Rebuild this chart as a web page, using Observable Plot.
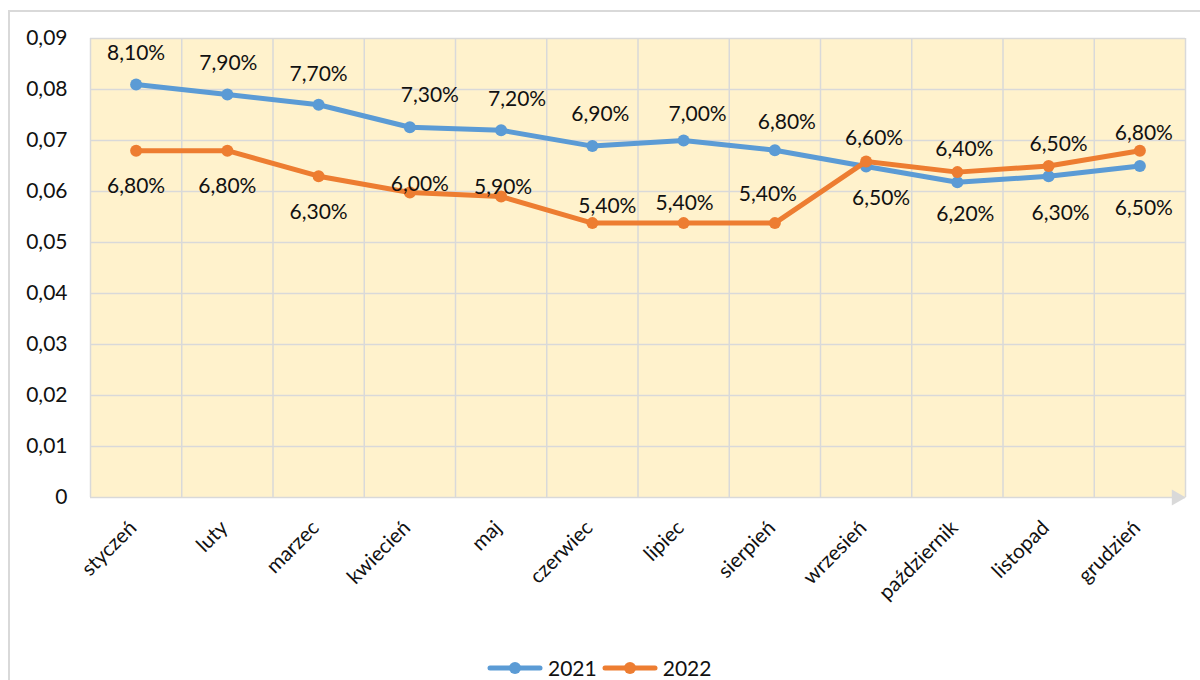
<!DOCTYPE html>
<html>
<head>
<meta charset="utf-8">
<script src="https://cdn.jsdelivr.net/npm/d3@7"></script>
<script src="https://cdn.jsdelivr.net/npm/@observablehq/plot@0.6"></script>
<style>
  body { margin: 0; background: #fff; font-family: Lato, "Open Sans", sans-serif; }
  #wrap { position: relative; width: 1200px; height: 680px; overflow: hidden; background: #fff; }
  #border { position: absolute; left: 8px; top: 10px; width: 1300px; height: 800px; border: 2px solid #d9d9d9; box-sizing: border-box; }
  #chart { position: absolute; left: 0; top: 0; }
  #legend { position: absolute; left: 487px; top: 657px; display: flex; align-items: center; font-size: 21px; line-height: 22px; color: #111; }
  #legend .item { display: flex; align-items: center; margin-right: 5px; }
  #legend svg { margin-right: 5px; }
</style>
</head>
<body>
<div id="wrap">
  <div id="border"></div>
  <div id="chart"></div>
  <div id="legend"></div>
</div>
<script>
// ---- data ----
const months = ["styczeń", "luty", "marzec", "kwiecień", "maj", "czerwiec", "lipiec", "sierpień", "wrzesień", "październik", "listopad", "grudzień"];
const values2021 = [0.081, 0.079, 0.077, 0.0726, 0.072, 0.0689, 0.070, 0.0681, 0.0649, 0.0618, 0.063, 0.065];
const values2022 = [0.068, 0.068, 0.063, 0.0598, 0.059, 0.0538, 0.0538, 0.0538, 0.0659, 0.0638, 0.065, 0.068];
const yTicks = [0, 0.01, 0.02, 0.03, 0.04, 0.05, 0.06, 0.07, 0.08, 0.09];
const seriesNames = ["2021", "2022"];
const seriesColors = ["#5B9BD5", "#ED7D31"];

// label nudges [dx, dy] (pixels), per point
const nudge2021 = [[0,-31],[1,-31],[0,-31],[20,-32],[16,-31],[8,-32],[14,-26],[12,-28],[15,32],[8,32],[12,37],[4,42]];
const nudge2022 = [[0,36],[0,36],[0,36],[10,-8],[2,-9],[15,-17],[1,-20],[-7,-29],[8,-23],[7,-23],[10,-22],[4,-17]];

const allValues = [values2021, values2022];
const allNudges = [nudge2021, nudge2022];

const rows = allValues.flatMap((vals, s) => vals.map((v, i) => ({
  series: seriesNames[s], si: s, i, x: i + 0.5, value: v,
  label: (Math.round(v * 1000) / 10).toFixed(2).replace(".", ",") + "%",
  dx: allNudges[s][i][0], dy: allNudges[s][i][1]
})));

const grid = "#d9d9d9";
const fmtY = d => d === 0 ? "0" : d.toFixed(2).replace(".", ",");

const marks = [
  Plot.frame({fill: "#FFF2CC", stroke: null}),
  Plot.ruleX(d3.range(0, 13), {stroke: grid, strokeWidth: 1.5}),
  Plot.ruleY(yTicks, {stroke: grid, strokeWidth: 1.5}),
  Plot.dot([{x: 12, y: 0}], {x: "x", y: "y", symbol: "triangle", r: 6, rotate: 90, fill: grid, stroke: null, dx: -9}),
];
seriesNames.forEach((name, s) => {
  const data = rows.filter(d => d.si === s);
  marks.push(Plot.line(data, {x: "x", y: "value", stroke: seriesColors[s], strokeWidth: 5, strokeLinejoin: "round", strokeLinecap: "round"}));
  marks.push(Plot.dot(data, {x: "x", y: "value", r: 6, fill: seriesColors[s], stroke: null}));
});
rows.forEach(d => {
  marks.push(Plot.text([d], {x: "x", y: "value", text: "label", dx: d.dx, dy: d.dy, fontSize: 21, fill: "#111"}));
});
marks.push(Plot.axisY({ticks: yTicks, tickSize: 0, tickPadding: 23, tickFormat: fmtY, fontSize: 21, label: null}));
marks.push(Plot.axisX({ticks: d3.range(12).map(i => i + 0.5), tickSize: 0, tickRotate: -45, tickPadding: 27, dx: -3,
  tickFormat: d => months[Math.floor(d)], fontSize: 20.5, label: null}));

const chart = Plot.plot({
  width: 1200,
  height: 640,
  marginTop: 38,
  marginBottom: 143,
  marginLeft: 90,
  marginRight: 15,
  x: {type: "linear", domain: [0, 12]},
  y: {domain: [0, 0.09]},
  style: {fontFamily: "Lato, 'Open Sans', sans-serif", fontSize: "20px", color: "#111", background: "transparent", overflow: "visible"},
  marks
});
document.getElementById("chart").appendChild(chart);

// legend
const legend = document.getElementById("legend");
seriesNames.forEach((name, s) => {
  const item = document.createElement("div");
  item.className = "item";
  item.innerHTML = `<svg width="56" height="16"><line x1="3" y1="8" x2="53" y2="8" stroke="${seriesColors[s]}" stroke-width="5" stroke-linecap="round"/><circle cx="28" cy="8" r="6" fill="${seriesColors[s]}"/></svg><span>${name}</span>`;
  legend.appendChild(item);
});
</script>
</body>
</html>
